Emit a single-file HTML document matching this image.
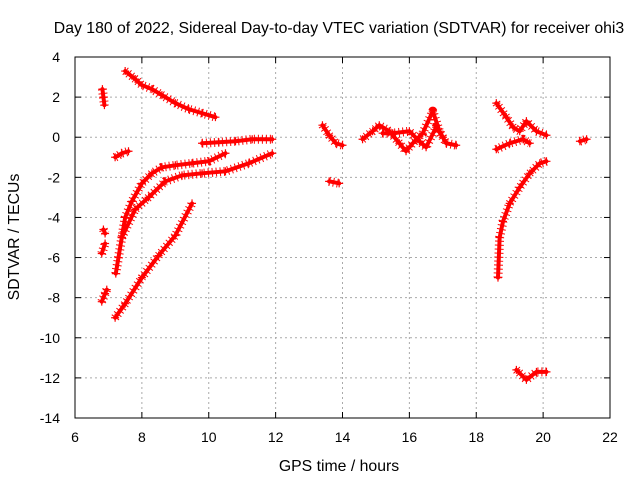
<!DOCTYPE html>
<html><head><meta charset="utf-8"><style>
body{margin:0;background:#fff}
svg{font-family:"Liberation Sans",sans-serif;font-size:14px}
</style></head><body>
<svg id="c" width="640" height="480">
<rect width="640" height="480" fill="#fff"/>
<g id="grid"></g>
<g id="series"></g>
<rect x="75" y="57" width="535" height="361" fill="none" stroke="#000"/>
<text x="339" y="33" text-anchor="middle" style="font-size:15.8px">Day 180 of 2022, Sidereal Day-to-day VTEC variation (SDTVAR) for receiver ohi3</text>
<text x="339" y="471" text-anchor="middle" style="font-size:15.8px">GPS time / hours</text>
<text transform="translate(19,237) rotate(-90)" text-anchor="middle" style="font-size:15.8px">SDTVAR / TECUs</text>
</svg>
<script>
const xTicks=[6,8,10,12,14,16,18,20,22];
const yTicks=[4,2,0,-2,-4,-6,-8,-10,-12,-14];
const trackTimes=[
[6.82,6.85,6.88],
[7.5,7.8,8.0,8.3,8.6,9.0,9.4,9.8,10.2],
[7.2,7.4,7.6],
[6.85,6.9],[6.8,6.9],[6.8,6.9,6.95],
[7.22,7.3,7.4,7.5,7.7,8.0,8.3,8.6,9.0,9.5,10.0,10.5],
[7.4,7.8,8.2,8.7,9.2,9.8,10.5,11.2,11.9],
[7.2,7.5,8.0,8.5,9.0,9.5],
[9.8,10.3,10.8,11.3,11.9],
[13.4,13.6,13.8,14.0],
[13.6,13.9],
[14.6,14.9,15.1,15.4,15.7,15.9,16.1,16.4,16.7,16.9,17.1,17.4],
[15.2,15.5,16.0,16.3,16.5,16.8,17.0],
[18.6,18.9,19.1,19.3,19.5,19.8,20.1],
[18.6,19.0,19.4,19.6],
[18.65,18.7,18.8,19.0,19.3,19.6,19.9,20.1],
[19.2,19.5,19.8,20.1],
[21.1,21.3]
];
const trackValues=[
[2.4,2.0,1.6],
[3.3,2.9,2.6,2.4,2.1,1.7,1.4,1.2,1.0],
[-1.0,-0.8,-0.7],
[-4.6,-4.8],[-5.8,-5.3],[-8.2,-7.8,-7.6],
[-6.8,-6.0,-5.0,-4.0,-3.2,-2.3,-1.8,-1.5,-1.4,-1.3,-1.2,-0.8],
[-5.0,-3.6,-3.0,-2.2,-1.9,-1.8,-1.7,-1.3,-0.8],
[-9.0,-8.3,-7.0,-5.9,-4.9,-3.3],
[-0.3,-0.25,-0.2,-0.1,-0.1],
[0.6,0.1,-0.3,-0.4],
[-2.2,-2.3],
[-0.1,0.3,0.6,0.3,-0.3,-0.7,-0.3,0.2,1.3,0.3,-0.3,-0.4],
[0.2,0.2,0.3,-0.2,-0.5,0.5,0.0],
[1.7,1.0,0.5,0.3,0.8,0.3,0.1],
[-0.6,-0.3,-0.1,-0.3],
[-7.0,-5.0,-4.2,-3.3,-2.5,-1.8,-1.3,-1.2],
[-11.6,-12.1,-11.7,-11.7],
[-0.2,-0.1]
];
const X=t=>75+(t-6)*535/16;
const Y=v=>57+(4-v)*361/18;
const NS='http://www.w3.org/2000/svg';
const grid=document.getElementById('grid'),ser=document.getElementById('series');
function mk(tag,attrs,parent){const e=document.createElementNS(NS,tag);for(const k in attrs)e.setAttribute(k,attrs[k]);parent.appendChild(e);return e;}
xTicks.forEach(t=>{
 if(t>6&&t<22){const l=mk('line',{x1:X(t),x2:X(t),y1:57,y2:418,stroke:'#aaa','stroke-dasharray':'2,3'},grid);
 
 }
 mk('line',{x1:X(t),x2:X(t),y1:418,y2:412,stroke:'#000'},grid);
 mk('line',{x1:X(t),x2:X(t),y1:57,y2:63,stroke:'#000'},grid);
 const tx=mk('text',{x:X(t),y:442,'text-anchor':'middle'},grid);tx.textContent=t;
 
 
});
yTicks.forEach(v=>{
 if(v<4&&v>-14){const l=mk('line',{x1:75,x2:610,y1:Y(v),y2:Y(v),stroke:'#aaa','stroke-dasharray':'2,3'},grid);
 
 }
 mk('line',{x1:75,x2:81,y1:Y(v),y2:Y(v),stroke:'#000'},grid);
 mk('line',{x1:610,x2:604,y1:Y(v),y2:Y(v),stroke:'#000'},grid);
 const tx=mk('text',{x:60,y:Y(v)+5,'text-anchor':'end'},grid);tx.textContent=v;
 
 
});
trackTimes.forEach((ts,i)=>{
 const vs=trackValues[i];
 const g=mk('g',{},ser);
 
 
 const pts=ts.map((t,j)=>X(t)+','+Y(vs[j])).join(' ');
 mk('polyline',{points:pts,fill:'none',stroke:'#f00','stroke-width':4,'stroke-linejoin':'round','stroke-linecap':'round'},g);
 mk('polyline',{points:pts,fill:'none',stroke:'#f00','stroke-width':9,'stroke-dasharray':'1,3','stroke-linejoin':'round'},g);
 ts.forEach((t,j)=>{const x=X(t),y=Y(vs[j]);
  const p=mk('path',{d:`M${x-4},${y}H${x+4}M${x},${y-4}V${y+4}`,stroke:'#f00','stroke-width':1.2},g);
  
  
 });
});
</script>
</body></html>
